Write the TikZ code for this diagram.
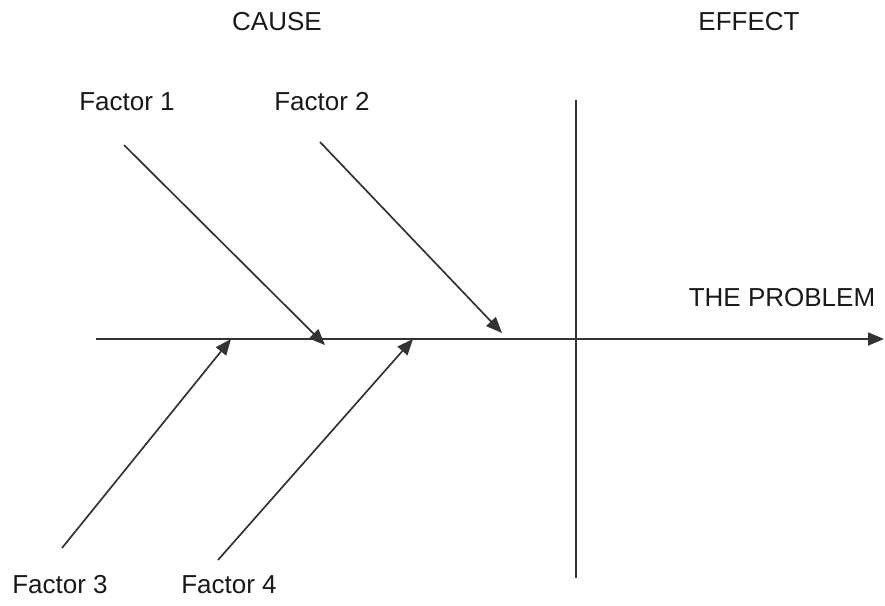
\documentclass[tikz,border=0pt]{standalone}
\usepackage{fontspec}
\setmainfont{Liberation Sans}
\usetikzlibrary{arrows.meta}
\begin{document}
\begin{tikzpicture}[x=1pt,y=-1pt,
  lbl/.style={font=\fontsize{26}{30}\selectfont, inner sep=0pt, text=black!90},
  ln/.style={line width=1.7pt, draw=black!80},
  arr/.style={ln, -{Triangle[length=16pt,width=13pt]}}]
\useasboundingbox (0,0) rectangle (885,605);
\node[lbl] (cause) at (277,22) {CAUSE};
\node[lbl] (effect) at (749,22) {EFFECT};
\node[lbl] (f1) at (127,102) {Factor 1};
\node[lbl] (f2) at (322,102) {Factor 2};
\node[lbl] (f3) at (60,585) {Factor 3};
\node[lbl] (f4) at (229,585) {Factor 4};
\node[lbl] (prob) at (782,298) {THE PROBLEM};
\coordinate (hs) at (96,339);
\coordinate (he) at (884,339);
\coordinate (vt) at (576,100);
\coordinate (vb) at (576,578);
\coordinate (a1s) at (124,145);
\coordinate (a1e) at (325,345);
\coordinate (a2s) at (320,142);
\coordinate (a2e) at (502,333);
\coordinate (a3s) at (62,548);
\coordinate (a3e) at (231,339);
\coordinate (a4s) at (218,560);
\coordinate (a4e) at (413,339);
\draw[arr] (hs) -- (he);
\draw[ln] (vt) -- (vb);
\draw[arr] (a1s) -- (a1e);
\draw[arr] (a2s) -- (a2e);
\draw[arr] (a3s) -- (a3e);
\draw[arr] (a4s) -- (a4e);
\end{tikzpicture}
\end{document}
